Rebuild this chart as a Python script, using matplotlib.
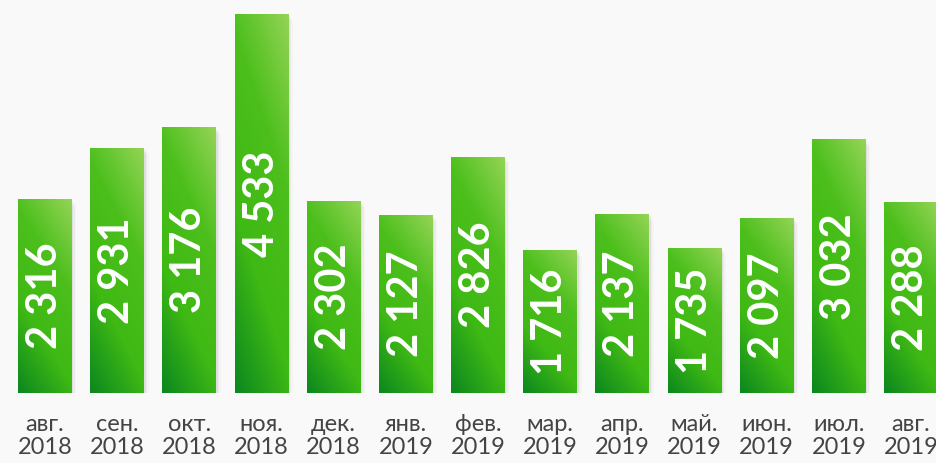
import numpy as np
import matplotlib.pyplot as plt
from matplotlib.colors import LinearSegmentedColormap
from matplotlib.patches import Rectangle

months = ['авг.', 'сен.', 'окт.', 'ноя.', 'дек.', 'янв.', 'фев.',
          'мар.', 'апр.', 'май.', 'июн.', 'июл.', 'авг.']
years = ['2018'] * 5 + ['2019'] * 8
values = [2316, 2931, 3176, 4533, 2302, 2127, 2826, 1716, 2137, 1735, 2097, 3032, 2288]

bg = '#f9f9f9'
cmap = LinearSegmentedColormap.from_list('grn', ['#0b871f', '#3fb914', '#4cbf1c', '#94d456'])

fig = plt.figure(figsize=(9.36, 4.63), dpi=100, facecolor=bg)
ax = fig.add_axes([0, 70 / 463, 1, 393 / 463])
ax.set_facecolor(bg)
step = 72.17
ax.set_xlim(-45 / step, -45 / step + 936 / step)
ax.set_ylim(0, 4700)
ax.axis('off')

w = 54 / step
# gradient: dark bottom-left -> light top-right
gx, gy = np.meshgrid(np.linspace(0, 1, 60), np.linspace(0, 1, 200))

for i, v in enumerate(values):
    # soft shadow
    for k, a in enumerate([0.05, 0.035, 0.02]):
        ax.add_patch(Rectangle((i - w / 2 + 0.02 * (k + 1), -25 * (k + 1)), w, v,
                               facecolor='black', alpha=a, lw=0, zorder=1))
    rect = Rectangle((i - w / 2, 0), w, v, facecolor='none', lw=0, zorder=2)
    ax.add_patch(rect)
    t = gx * 0.3 + gy * 0.7
    im = ax.imshow(t, cmap=cmap, extent=(i - w / 2, i + w / 2, 0, v), origin='lower',
                   aspect='auto', vmin=0, vmax=1, zorder=2, interpolation='bilinear')
    im.set_clip_path(rect)
    lab = f'{v:,}'.replace(',', ' ')
    ax.text(i, v / 2, lab, rotation=90, ha='center', va='center', color='white',
            fontsize=30, fontweight='bold', family='Lato', zorder=3)
    ax.text(i, -0.109, months[i] + '\n' + years[i], transform=ax.get_xaxis_transform(),
            ha='center', va='center', fontsize=17, color='#444444', family='Lato',
            fontweight='normal', linespacing=1.15, clip_on=False)

fig.savefig('out.png', dpi=100, facecolor=bg)
